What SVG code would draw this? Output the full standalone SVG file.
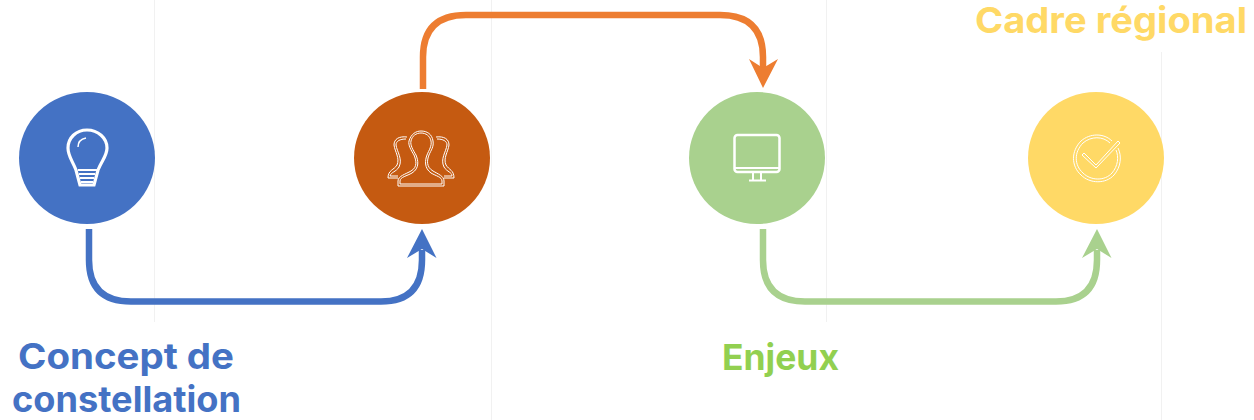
<svg xmlns="http://www.w3.org/2000/svg" width="1254" height="420" viewBox="0 0 1254 420">
<style>
.g{stroke:#f1f1f1;stroke-width:1;fill:none}
.c{fill:none;stroke-width:6.500}
.i{fill:none;stroke:#fff}
.t{font-family:Inter,"Liberation Sans",sans-serif;font-weight:700;font-size:35.500px}
</style>
<rect width="1254" height="420" fill="#fff"/>
<g id="grid">
<path class="g" d="M154.500 0V322M491.500 0V420M826.500 0V322M1161.500 52V420"/>
</g>
<g id="connectors">
<path class="c" stroke="#4472c4" d="M89 229V260Q89 301.500 131 301.500H381Q422 301.500 422 260V250"/>
<path fill="#4472c4" d="M422 229L436.500 258L422 249L407 258Z"/>
<path class="c" stroke="#ed7d31" d="M423 89V57Q423 15 466 15H720Q763 15 763 57V70"/>
<path fill="#ed7d31" d="M763 88L749 59L763 68L778 59Z"/>
<path class="c" stroke="#a9d18e" d="M763 229V260Q763 301.500 805 301.500H1056Q1097 301.500 1097 260V250"/>
<path fill="#a9d18e" d="M1097 229L1111.500 258L1097 249L1082 258Z"/>
</g>
<g id="node-concept">
<ellipse cx="87" cy="158" rx="68" ry="66" fill="#4472c4"/>
<path class="i" stroke-width="3.200" d="M80 185L76 170C72 160 68 156 68 148C68 138 76 130 87 130C98 130 107 138 107 148C107 156 102 160 98 170L94 185Z"/>
<path class="i" stroke-width="2" d="M78 170H97M79 174H95M80 178H94M81 182H93"/>
<path class="i" stroke-width="1.500" d="M78 147C78 142 81 139 86 138"/>
</g>
<g id="node-people">
<ellipse cx="422" cy="158" rx="68" ry="66" fill="#c55a11"/>
<path class="i" stroke-width="1" d="M398 186V181C398 176 406 174 411 171C418 167 416 160 414 155C411 150 408 145 409 141C411 134 416 131 421 131C427 131 432 134 433 141C434 147 431 150 429 155C427 160 426 167 433 171C438 174 444 176 444 181V186Z"/>
<path class="i" stroke-width="1" d="M400 184V181C400 177 407 176 412 173C420 168 418 160 416 155C413 150 410 145 411 141C412 136 416 133 421 133C426 133 430 136 431 141C432 146 429 150 427 155C425 160 424 168 431 173C436 176 442 177 442 181V184Z"/>
<path class="i" stroke-width="1" d="M407 137C399 136 394 139 394 145C395 152 400 158 397 165C394 170 388 170 388 178H398M406 139C400 139 396 141 396 145C397 152 403 159 399 167C396 172 391 172 390 176H398"/>
<path class="i" stroke-width="1" d="M436 137C444 136 449 139 449 145C448 152 443 158 446 165C449 170 454 170 454 178H444M437 139C443 139 447 141 447 145C446 152 440 159 444 167C447 172 452 172 452 176H444"/>
</g>
<g id="node-screen">
<ellipse cx="757" cy="158" rx="68" ry="66" fill="#a9d18e"/>
<rect class="i" stroke-width="2.500" x="734.500" y="135" width="45" height="37" rx="3"/>
<path class="i" stroke-width="2" d="M735 168H779M753 173V180M761 173V180M749 180.500H766"/>
</g>
<g id="node-check">
<ellipse cx="1096" cy="158" rx="68" ry="66" fill="#ffd966"/>
<path class="i" stroke-width="1" d="M1112 141C1104 133 1090 133 1081 141C1071 151 1071 166 1081 175C1090 184 1106 184 1114 175C1121 167 1122 156 1118 148"/>
<path class="i" stroke-width="1" d="M1110 143C1103 136 1091 136 1083 143C1074 152 1074 165 1083 173C1091 181 1105 181 1112 173C1118 166 1119 157 1116 150"/>
<path class="i" stroke-width="1" d="M1084 153L1096 165L1118 141L1120 143L1096 168L1082 155Z"/>
</g>
<g id="labels">
<text class="t" fill="#4472c4" x="18" y="369" textLength="216" lengthAdjust="spacingAndGlyphs">Concept de</text>
<text class="t" fill="#4472c4" x="12" y="412" textLength="229" lengthAdjust="spacingAndGlyphs">constellation</text>
<text class="t" fill="#92d050" x="722" y="370" textLength="117" lengthAdjust="spacingAndGlyphs">Enjeux</text>
<text class="t" fill="#ffd966" x="975" y="33" textLength="272" lengthAdjust="spacingAndGlyphs">Cadre régional</text>
</g>
</svg>
